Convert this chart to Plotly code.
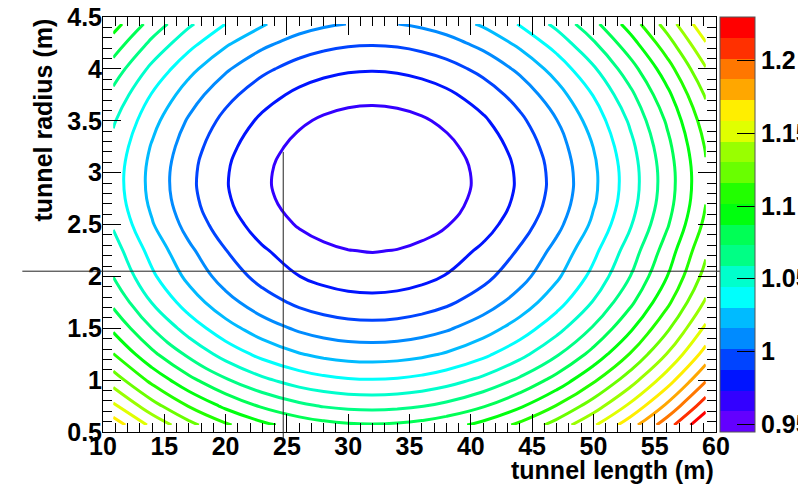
import plotly.graph_objects as go

# Scan grid (bin-centre extent of the scan)
tunnel_length = [10.83, 14, 17, 20, 23, 26, 28, 30, 32, 34, 36, 38, 41, 44, 47, 50, 53, 56, 59.17]
tunnel_radius = [0.567, 0.75, 1.0, 1.25, 1.5, 1.75, 2.0, 2.25, 2.5, 2.75, 3.0, 3.25, 3.5, 3.75, 4.0, 4.25, 4.433]

# Relative value on the (radius, length) grid, one row per radius
z_value = [
    [1.1667, 1.1410, 1.1204, 1.1037, 1.0907, 1.0814, 1.0773, 1.0749, 1.0742, 1.0751, 1.0777, 1.0819, 1.0914, 1.1047, 1.1217, 1.1425, 1.1670, 1.1952, 1.2292],
    [1.1473, 1.1215, 1.1010, 1.0843, 1.0713, 1.0620, 1.0579, 1.0555, 1.0547, 1.0557, 1.0582, 1.0625, 1.0720, 1.0853, 1.1023, 1.1230, 1.1476, 1.1758, 1.2098],
    [1.1233, 1.0976, 1.0770, 1.0603, 1.0473, 1.0380, 1.0339, 1.0315, 1.0308, 1.0317, 1.0343, 1.0385, 1.0480, 1.0613, 1.0783, 1.0991, 1.1236, 1.1518, 1.1858],
    [1.1020, 1.0763, 1.0558, 1.0390, 1.0260, 1.0167, 1.0126, 1.0102, 1.0095, 1.0104, 1.0130, 1.0172, 1.0267, 1.0400, 1.0570, 1.0778, 1.1023, 1.1306, 1.1645],
    [1.0845, 1.0587, 1.0382, 1.0214, 1.0084, 0.9992, 0.9951, 0.9927, 0.9919, 0.9928, 0.9954, 0.9997, 1.0092, 1.0224, 1.0395, 1.0602, 1.0847, 1.1130, 1.1469],
    [1.0696, 1.0439, 1.0233, 1.0066, 0.9936, 0.9843, 0.9802, 0.9778, 0.9771, 0.9780, 0.9806, 0.9848, 0.9943, 1.0076, 1.0246, 1.0454, 1.0699, 1.0981, 1.1321],
    [1.0585, 1.0327, 1.0122, 0.9954, 0.9824, 0.9732, 0.9691, 0.9667, 0.9659, 0.9668, 0.9694, 0.9737, 0.9832, 0.9964, 1.0135, 1.0342, 1.0587, 1.0870, 1.1209],
    [1.0508, 1.0250, 1.0045, 0.9877, 0.9747, 0.9655, 0.9614, 0.9590, 0.9582, 0.9591, 0.9617, 0.9660, 0.9755, 0.9887, 1.0058, 1.0265, 1.0510, 1.0793, 1.1132],
    [1.0428, 1.0170, 0.9965, 0.9797, 0.9667, 0.9575, 0.9534, 0.9510, 0.9502, 0.9511, 0.9537, 0.9580, 0.9675, 0.9807, 0.9978, 1.0185, 1.0430, 1.0713, 1.1052],
    [1.0381, 1.0123, 0.9918, 0.9750, 0.9620, 0.9528, 0.9487, 0.9463, 0.9455, 0.9464, 0.9490, 0.9533, 0.9628, 0.9760, 0.9930, 1.0138, 1.0383, 1.0666, 1.1005],
    [1.0373, 1.0116, 0.9911, 0.9743, 0.9613, 0.9520, 0.9480, 0.9455, 0.9448, 0.9457, 0.9483, 0.9525, 0.9621, 0.9753, 0.9923, 1.0131, 1.0376, 1.0659, 1.0998],
    [1.0403, 1.0146, 0.9941, 0.9773, 0.9643, 0.9550, 0.9510, 0.9485, 0.9478, 0.9487, 0.9513, 0.9555, 0.9651, 0.9783, 0.9953, 1.0161, 1.0406, 1.0689, 1.1028],
    [1.0462, 1.0204, 0.9999, 0.9832, 0.9702, 0.9609, 0.9568, 0.9544, 0.9536, 0.9546, 0.9571, 0.9614, 0.9709, 0.9842, 1.0012, 1.0219, 1.0465, 1.0747, 1.1087],
    [1.0549, 1.0292, 1.0086, 0.9919, 0.9789, 0.9696, 0.9655, 0.9631, 0.9624, 0.9633, 0.9659, 0.9701, 0.9796, 0.9929, 1.0099, 1.0307, 1.0552, 1.0834, 1.1174],
    [1.0666, 1.0409, 1.0203, 1.0036, 0.9906, 0.9813, 0.9772, 0.9748, 0.9741, 0.9750, 0.9776, 0.9818, 0.9913, 1.0046, 1.0216, 1.0424, 1.0669, 1.0951, 1.1291],
    [1.0813, 1.0556, 1.0351, 1.0183, 1.0053, 0.9960, 0.9919, 0.9895, 0.9888, 0.9897, 0.9923, 0.9965, 1.0060, 1.0193, 1.0363, 1.0571, 1.0816, 1.1099, 1.1438],
    [1.0932, 1.0674, 1.0469, 1.0301, 1.0171, 1.0079, 1.0038, 1.0014, 1.0006, 1.0015, 1.0041, 1.0084, 1.0179, 1.0311, 1.0482, 1.0689, 1.0934, 1.1217, 1.1556],
]

# Colour range and number of contour bands
Z_MIN = 0.9445
Z_MAX = 1.2301
N_CONT = 20

# Rainbow palette, one colour per band (violet -> red)
palette = ['#6300ff', '#3300ff', '#0014ff', '#0044ff', '#008bff', '#00bbff', '#00fffc',
           '#00ffcc', '#00ff85', '#00ff55', '#00ff0e', '#22ff00', '#69ff00', '#99ff00',
           '#e0ff00', '#ffee00', '#ffa700', '#ff7700', '#ff3000', '#ff0000']

# Axis ticks
x_ticks = [10, 15, 20, 25, 30, 35, 40, 45, 50, 55, 60]
y_ticks = [0.5, 1, 1.5, 2, 2.5, 3, 3.5, 4, 4.5]
y_tick_text = ['0.5', '1', '1.5', '2', '2.5', '3', '3.5', '4', '4.5']
z_ticks = [0.95, 1.0, 1.05, 1.1, 1.15, 1.2]
z_tick_text = ['0.95', '1', '1.05', '1.1', '1.15', '1.2']

# Working-point cross-hair
ref_length = 24.7
ref_radius = 2.05
h_line_length = [3.42, 62.11]
v_line_radius = [0.44, 3.20]

X_RANGE = [10, 60]
Y_RANGE = [0.5, 4.5]

dz = (Z_MAX - Z_MIN) / N_CONT
first_level = Z_MIN + dz
last_level = Z_MIN + (N_CONT - 1) * dz

# line colours: level k drawn with band k colour (k = 1..19)
n_lines = N_CONT - 1
line_scale = [[(k - 1) / (n_lines - 1), palette[k]] for k in range(1, N_CONT)]

# stepped colour bar
bar_scale = []
for k, c in enumerate(palette):
    bar_scale.append([k / N_CONT, c])
    bar_scale.append([(k + 1) / N_CONT, c])

FONT = dict(family='Liberation Sans, Arial, sans-serif', size=25, color='black', weight='bold')

fig = go.Figure()

fig.add_trace(go.Contour(
    x=tunnel_length, y=tunnel_radius, z=z_value,
    autocontour=False,
    contours=dict(start=first_level, end=last_level, size=dz, coloring='lines'),
    colorscale=line_scale, zauto=False, zmin=Z_MIN, zmax=Z_MAX,
    line=dict(width=3, smoothing=1.3),
    showscale=False, hoverinfo='skip',
))

# colour bar carrier
fig.add_trace(go.Scatter(
    x=[X_RANGE[0], X_RANGE[0]], y=[Y_RANGE[0], Y_RANGE[0]], mode='markers',
    marker=dict(size=0.1, opacity=0, color=[Z_MIN, Z_MAX], cmin=Z_MIN, cmax=Z_MAX,
                colorscale=bar_scale, showscale=True,
                colorbar=dict(
                    x=(720 - 103) / 613, xanchor='left', xpad=0, ypad=0,
                    y=0.5, yanchor='middle', len=1, lenmode='fraction',
                    thickness=35, thicknessmode='pixels',
                    outlinewidth=1, outlinecolor='#555555',
                    tickmode='array', tickvals=z_ticks, ticktext=z_tick_text,
                    tickprefix='\u2009',
                    ticks='inside', ticklen=18, tickwidth=1, tickcolor='black',
                    tickfont=FONT,
                )),
    hoverinfo='skip', showlegend=False,
))


def px(v):
    return (v - X_RANGE[0]) / (X_RANGE[1] - X_RANGE[0])


def py(v):
    return (v - Y_RANGE[0]) / (Y_RANGE[1] - Y_RANGE[0])


fig.add_shape(type='line', xref='paper', yref='paper',
              x0=px(h_line_length[0]), x1=px(h_line_length[1]),
              y0=py(ref_radius), y1=py(ref_radius),
              line=dict(color='#222222', width=1))
fig.add_shape(type='line', xref='paper', yref='paper',
              x0=px(ref_length), x1=px(ref_length),
              y0=py(v_line_radius[0]), y1=py(v_line_radius[1]),
              line=dict(color='#222222', width=1))

axis_common = dict(
    ticks='inside', ticklen=18, tickwidth=1, tickcolor='black',
    showline=True, linecolor='black', linewidth=1, mirror='ticks',
    showgrid=False, zeroline=False, tickfont=FONT,
)

fig.update_xaxes(range=X_RANGE, tickmode='array', tickvals=x_ticks, ticklabelstandoff=-8,
                 minor=dict(ticks='inside', ticklen=9, tickcolor='black', tickmode='linear',
                            tick0=10, dtick=1, showgrid=False),
                 **axis_common)
fig.update_yaxes(range=Y_RANGE, tickmode='array', tickvals=y_ticks, ticktext=y_tick_text,
                 ticklabelstandoff=-5,
                 minor=dict(ticks='inside', ticklen=9, tickcolor='black', tickmode='linear',
                            tick0=0.5, dtick=0.1, showgrid=False),
                 **axis_common)

fig.add_annotation(text='tunnel length (m)', xref='paper', yref='paper',
                   x=1.0, y=-0.092, xanchor='right', yanchor='middle',
                   showarrow=False, font=FONT)
fig.add_annotation(text='tunnel radius (m)', xref='paper', yref='paper',
                   x=-0.0995, y=1.0, xanchor='center', yanchor='top', textangle=-90,
                   showarrow=False, font=FONT)

fig.update_layout(
    width=798, height=484,
    margin=dict(l=103, r=82, t=17, b=52, autoexpand=False),
    paper_bgcolor='white', plot_bgcolor='white',
    showlegend=False,
)

fig.write_html('out.html')
